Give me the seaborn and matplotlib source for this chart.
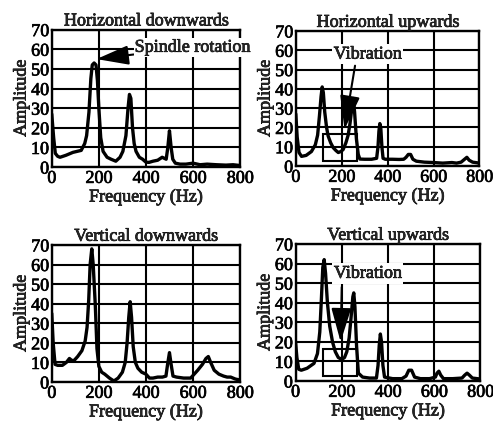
import numpy as np
import pandas as pd
import seaborn as sns
import matplotlib.pyplot as plt
import matplotlib.patheffects as pe
from matplotlib.patches import Rectangle
from matplotlib.text import Text

# spectra (frequency in Hz, amplitude)
hd_freq = [0, 8, 15, 25, 35, 60, 90, 125, 140, 148, 158, 166, 172, 180, 188, 194, 200, 208, 218, 235,
           252, 272, 290, 302, 315, 324, 330, 336, 343, 350, 358, 372, 386, 400, 413, 430, 450, 469,
           486, 493, 500, 507, 514, 525, 545, 570, 600, 630, 660, 700, 740, 770, 800]
hd_amp = [27, 15, 7, 5.5, 5, 6, 7.5, 8.5, 12, 16, 28, 45, 52, 53, 52, 44, 30, 15, 8, 5,
          4, 3, 5, 8, 16, 30, 37, 35, 20, 12, 8, 5, 4, 2.5, 2.4, 3, 3.5, 5,
          4, 10, 18.5, 10, 4, 2, 1.5, 1.5, 2, 1.2, 1.5, 1.2, 1.0, 1.2, 0.8]

hu_freq = [0, 6, 14, 25, 45, 68, 85, 95, 103, 110, 115, 120, 126, 134, 141, 152, 163, 175, 185, 196,
           206, 218, 228, 236, 243, 250, 256, 264, 272, 279, 300, 330, 352, 358, 362, 366, 370, 375,
           380, 390, 420, 450, 470, 480, 490, 500, 510, 525, 560, 600, 640, 680, 700, 720, 735, 745,
           755, 770, 800]
hu_amp = [27, 15, 7, 5, 5.5, 7.5, 11, 16, 26, 36, 41, 38, 28, 20, 15.5, 12, 9.5, 8, 7, 7.5,
          8.5, 12, 16, 22, 29, 35, 28, 14, 6, 3.6, 3.5, 3.5, 4, 10, 18, 22, 20, 10,
          4, 3.5, 3.5, 3.4, 3.5, 4.5, 6, 6, 3.5, 2.5, 2, 1.8, 1.5, 1.8, 1.5, 2, 3.5, 4.5,
          3, 2, 1.5]

vd_freq = [0, 6, 14, 25, 45, 62, 75, 85, 95, 110, 128, 142, 150, 157, 163, 170, 176, 185, 192, 200,
           212, 225, 245, 264, 282, 300, 312, 320, 327, 333, 339, 346, 355, 366, 382, 400, 415, 430,
           450, 470, 485, 492, 500, 507, 515, 530, 560, 590, 605, 620, 640, 655, 665, 675, 690, 710,
           730, 745, 760, 780, 800]
vd_amp = [35, 20, 9, 8.5, 8.5, 10, 12, 11, 11, 13, 16, 21, 28, 42, 60, 68, 60, 39, 17, 8,
          5, 4, 2, 0.5, 2, 5, 10, 20, 33, 41, 33, 18, 10, 7, 5, 4, 2, 2,
          2.5, 2.5, 3, 9, 15, 9, 3, 2.5, 2, 2, 4, 6, 9, 12, 13, 10, 6, 4,
          3, 2.5, 2.5, 1.5, 1]

vu_freq = [0, 6, 14, 25, 50, 80, 95, 105, 112, 118, 124, 130, 138, 148, 160, 172, 185, 200, 212, 222,
           232, 240, 248, 252, 257, 264, 272, 290, 320, 350, 357, 362, 367, 372, 378, 385, 420, 460,
           478, 490, 502, 515, 540, 580, 605, 612, 620, 628, 640, 680, 720, 732, 742, 752, 765, 800]
vu_amp = [20, 12, 6, 5.5, 6.5, 9, 14, 25, 42, 58, 62, 55, 40, 28, 20, 15, 12, 11, 12, 15,
          22, 32, 43, 45, 38, 18, 4, 2, 1.5, 1.5, 8, 18, 24, 20, 8, 2, 1.2, 1.2,
          2.5, 5.5, 5.5, 2, 1.2, 1.2, 2, 4, 5, 3, 1.2, 1.2, 1.5, 3, 4, 3, 1.5, 1]

titles = ['Horizontal downwards', 'Horizontal upwards', 'Vertical downwards', 'Vertical upwards']
x_ticks = [0, 200, 400, 600, 800]
y_ticks = [0, 10, 20, 30, 40, 50, 60, 70]

sns.set_theme(style='ticks')
plt.rcParams['font.family'] = ['Liberation Serif', 'DejaVu Serif']
plt.rcParams['font.size'] = 13

fig = plt.figure(figsize=(4.93, 4.31), dpi=100)
positions = [[0.105, 0.610, 0.382, 0.319],
             [0.600, 0.6125, 0.3726, 0.3133],
             [0.105, 0.1114, 0.382, 0.318],
             [0.5994, 0.1137, 0.3752, 0.318]]
spectra = [(hd_freq, hd_amp), (hu_freq, hu_amp), (vd_freq, vd_amp), (vu_freq, vu_amp)]

axes = []
for pos, (f, a), title in zip(positions, spectra, titles):
    ax = fig.add_axes(pos)
    df = pd.DataFrame({'f': f, 'a': a})
    sns.lineplot(data=df, x='f', y='a', ax=ax, color='black', lw=2.4, zorder=3)
    ax.set_xlim(0, 800)
    ax.set_ylim(0, 70)
    ax.set_xticks(x_ticks)
    ax.set_yticks(y_ticks)
    ax.grid(True, color='black', lw=1.5)
    ax.set_axisbelow(True)
    for s in ax.spines.values():
        s.set_color('black')
        s.set_linewidth(1.7)
    ax.tick_params(length=0, pad=2, labelsize=13, colors='black')
    ax.set_xlabel('Frequency (Hz)', fontsize=13, labelpad=1)
    ax.set_ylabel('Amplitude', fontsize=13, labelpad=1)
    ax.set_title(title, fontsize=13, pad=3)
    axes.append(ax)

# spindle rotation arrow
axes[0].annotate('Spindle rotation', xy=(190, 55), xytext=(352, 61), ha='left', va='center',
                 fontsize=13, zorder=5,
                 bbox=dict(boxstyle='square,pad=0.05', fc='white', ec='none'),
                 arrowprops=dict(arrowstyle='-|>,head_length=2.0,head_width=0.6', color='black',
                                 lw=1.5, shrinkA=0, shrinkB=0, mutation_scale=10))

# vibration markers
for ax, txt_y, tail, tip in [(axes[1], 58, (258, 52), (212, 19)), (axes[3], 55, (200, 48), (195, 20))]:
    ax.text(312, txt_y, 'Vibration', ha='center', va='center', fontsize=13, zorder=5,
            bbox=dict(boxstyle='square,pad=0.1', fc='white', ec='none'))
    ax.annotate('', xy=tip, xytext=tail, zorder=5,
                arrowprops=dict(arrowstyle='-|>,head_length=2.1,head_width=0.62', color='black',
                                lw=1.5, shrinkA=0, shrinkB=0, mutation_scale=10))
    ax.add_patch(Rectangle((120, 2.5), 146, 14, fill=False, ec='black', lw=1.5, zorder=4))

# scanned original has heavy glyphs
for t in fig.findobj(Text):
    t.set_path_effects([pe.withStroke(linewidth=0.5, foreground='black')])

fig.savefig('out.png', dpi=100)
